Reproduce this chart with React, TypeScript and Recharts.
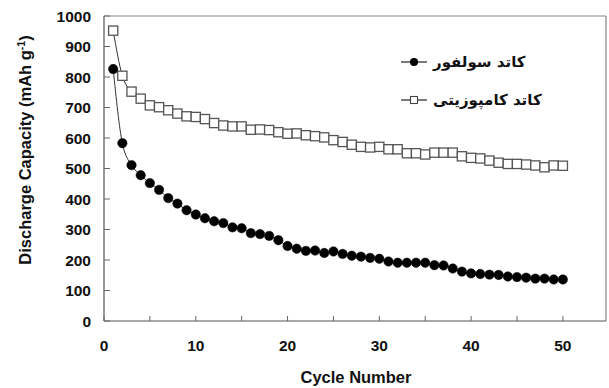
import React from "react";
import { LineChart, Line, XAxis, YAxis, ReferenceLine, Customized } from "recharts";

const cycles = Array.from({ length: 50 }, (_, i) => i + 1);
const sulfurCathode = [826, 583, 511, 478, 452, 430, 403, 385, 363, 349, 337, 327, 321, 307, 304, 288, 285, 279, 265, 246, 237, 230, 231, 223, 228, 220, 214, 211, 207, 204, 195, 191, 191, 191, 191, 183, 182, 172, 162, 156, 154, 152, 151, 146, 144, 142, 139, 139, 136, 136];
const compositeCathode = [952, 804, 752, 729, 707, 701, 691, 680, 671, 669, 662, 649, 641, 638, 638, 627, 628, 626, 619, 614, 615, 609, 606, 602, 593, 587, 578, 571, 569, 571, 563, 563, 550, 550, 546, 552, 552, 552, 540, 535, 533, 526, 519, 515, 515, 513, 510, 504, 510, 509];
const xTicks = [0, 5, 10, 15, 20, 25, 30, 35, 40, 45, 50];
const yTicks = [0, 100, 200, 300, 400, 500, 600, 700, 800, 900, 1000];
const seriesNames = ["کاتد سولفور", "کاتد کامپوزیتی"];
const xTitle = "Cycle Number";
const yTitle = "Discharge Capacity (mAh g";

const XMAX = 54.7;
const data = cycles.map((c, i) => ({ cycle: c, sulfur: sulfurCathode[i], composite: compositeCathode[i] }));

const FONT = "'Liberation Sans', Arial, sans-serif";

const XTick = (props: any) => {
  const { x, y, payload } = props;
  const v = payload.value;
  return (
    <g>
      <line x1={x} x2={x} y1={y} y2={y - 5} stroke="#666" strokeWidth={1} />
      {v % 10 === 0 && (
        <text x={x} y={y + 30} textAnchor="middle" fontFamily={FONT} fontWeight="bold" fontSize={15.5} fill="#111">
          {v}
        </text>
      )}
    </g>
  );
};

const YTick = (props: any) => {
  const { x, y, payload } = props;
  return (
    <g>
      <line x1={x} x2={x + 6} y1={y} y2={y} stroke="#666" strokeWidth={1} />
      <text x={x - 13} y={y + 5.5} textAnchor="end" fontFamily={FONT} fontWeight="bold" fontSize={15.5} fill="#111">
        {payload.value}
      </text>
    </g>
  );
};

const CircleDot = (props: any) => {
  const { cx, cy } = props;
  if (cx == null || cy == null) return null;
  return <circle cx={cx} cy={cy} r={4.7} fill="#000" stroke="#000" strokeWidth={0.5} />;
};

const SquareDot = (props: any) => {
  const { cx, cy } = props;
  if (cx == null || cy == null) return null;
  return <rect x={cx - 4.6} y={cy - 4.6} width={9.2} height={9.2} fill="#fff" stroke="#555" strokeWidth={1.3} />;
};

const Extras = () => (
  <g>
    <text
      transform="rotate(-90, 31, 150)"
      x={31}
      y={150}
      textAnchor="middle"
      fontFamily={FONT}
      fontWeight="bold"
      fontSize={16.5}
      fill="#111"
    >
      {yTitle}
      <tspan dy={-6} fontSize={10.5}>-1</tspan>
      <tspan dy={6}>)</tspan>
    </text>
    <text x={356} y={383} textAnchor="middle" fontFamily={FONT} fontWeight="bold" fontSize={16.5} fill="#111">
      {xTitle}
    </text>
    {/* legend */}
    <line x1={401} x2={427} y1={62} y2={62} stroke="#222" strokeWidth={1.2} />
    <circle cx={414} cy={62} r={4} fill="#000" />
    <text x={433} y={67} fontFamily="'DejaVu Sans', sans-serif" fontWeight="bold" fontSize={15} fill="#111">
      {seriesNames[0]}
    </text>
    <line x1={401} x2={427} y1={100} y2={100} stroke="#222" strokeWidth={1.2} />
    <rect x={410.5} y={96.5} width={7} height={7} fill="#fff" stroke="#444" strokeWidth={1.1} />
    <text x={433} y={105} fontFamily="'DejaVu Sans', sans-serif" fontWeight="bold" fontSize={15} fill="#111">
      {seriesNames[1]}
    </text>
  </g>
);

export default function App() {
  return (
    <div style={{ position: "absolute", left: 0, top: 0, width: 609, height: 388, background: "#fff" }}>
      <LineChart width={609} height={388} data={data} margin={{ top: 16, right: 3, left: 0, bottom: 0 }}>
        <XAxis
          dataKey="cycle"
          type="number"
          domain={[0, XMAX]}
          ticks={xTicks}
          interval={0}
          height={67}
          tickSize={0}
          tickMargin={0}
          tickLine={false}
          axisLine={{ stroke: "#555", strokeWidth: 1.2 }}
          tick={<XTick />}
          allowDataOverflow
        />
        <YAxis
          type="number"
          domain={[0, 1000]}
          ticks={yTicks}
          interval={0}
          width={104}
          tickSize={0}
          tickMargin={0}
          tickLine={false}
          axisLine={{ stroke: "#555", strokeWidth: 1.2 }}
          tick={<YTick />}
        />
        <ReferenceLine y={1000} stroke="#888" strokeWidth={1.2} />
        <ReferenceLine x={XMAX} stroke="#888" strokeWidth={1.2} />
        <Line
          type="monotone"
          dataKey="composite"
          stroke="#333"
          strokeWidth={1}
          dot={<SquareDot />}
          activeDot={false}
          isAnimationActive={false}
        />
        <Line
          type="monotone"
          dataKey="sulfur"
          stroke="#333"
          strokeWidth={1}
          dot={<CircleDot />}
          activeDot={false}
          isAnimationActive={false}
        />
        <Customized component={Extras} />
      </LineChart>
    </div>
  );
}
